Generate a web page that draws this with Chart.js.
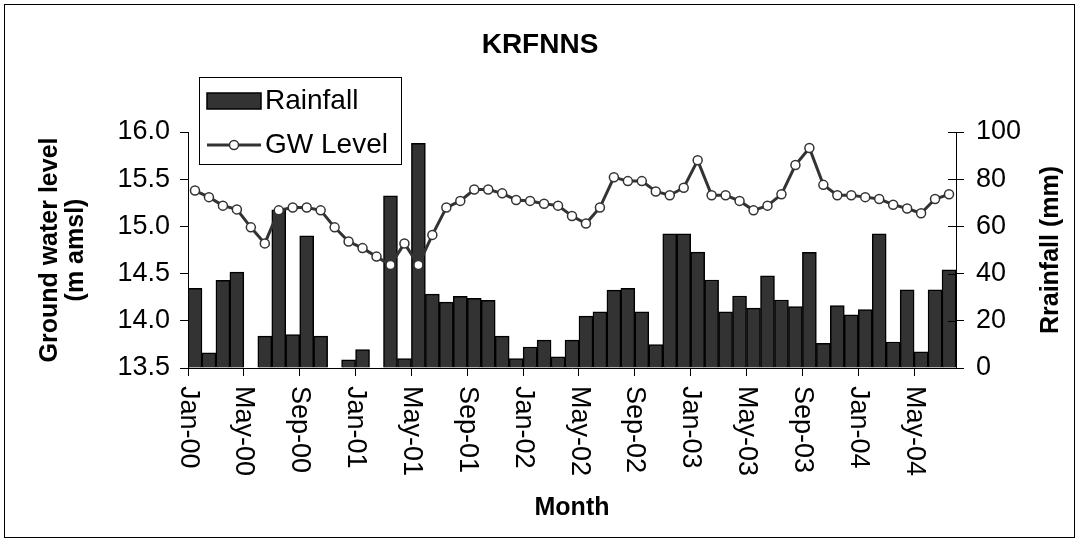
<!DOCTYPE html>
<html>
<head>
<meta charset="utf-8">
<script src="https://cdn.jsdelivr.net/npm/chart.js@4.4.1/dist/chart.umd.min.js"></script>
<style>
  html, body { margin: 0; padding: 0; background: #fff; }
  #wrap { width: 1080px; height: 547px; }
</style>
</head>
<body>
<div id="wrap"><canvas id="myChart" width="1080" height="547"></canvas></div>
<script>
const months = [
  'Jan-00', 'Feb-00', 'Mar-00', 'Apr-00', 'May-00', 'Jun-00', 'Jul-00', 'Aug-00', 'Sep-00', 'Oct-00', 'Nov-00', 'Dec-00',
  'Jan-01', 'Feb-01', 'Mar-01', 'Apr-01', 'May-01', 'Jun-01', 'Jul-01', 'Aug-01', 'Sep-01', 'Oct-01', 'Nov-01', 'Dec-01',
  'Jan-02', 'Feb-02', 'Mar-02', 'Apr-02', 'May-02', 'Jun-02', 'Jul-02', 'Aug-02', 'Sep-02', 'Oct-02', 'Nov-02', 'Dec-02',
  'Jan-03', 'Feb-03', 'Mar-03', 'Apr-03', 'May-03', 'Jun-03', 'Jul-03', 'Aug-03', 'Sep-03', 'Oct-03', 'Nov-03', 'Dec-03',
  'Jan-04', 'Feb-04', 'Mar-04', 'Apr-04', 'May-04', 'Jun-04', 'Jul-04',
];

const tickLabels = [
  'Jan-00', 'May-00', 'Sep-00', 'Jan-01', 'May-01', 'Sep-01', 'Jan-02',
  'May-02', 'Sep-02', 'Jan-03', 'May-03', 'Sep-03', 'Jan-04', 'May-04',
];

// monthly rainfall (mm), right axis
const rainfall = [
  33.8, 6.4, 37.2, 40.6, 0, 13.5, 67.0, 14.2, 56.0, 13.5, 0, 3.5,
  7.8, 0, 73.0, 4.0, 95.2, 31.3, 27.9, 30.4, 29.5, 28.7, 13.5, 4.0,
  8.9, 11.8, 4.7, 11.8, 22.0, 23.8, 33.0, 33.8, 23.8, 9.9, 56.9, 56.9,
  49.1, 37.3, 23.8, 30.5, 25.4, 39.1, 28.8, 26.0, 49.0, 10.5, 26.5, 22.5,
  24.8, 56.9, 11.0, 33.1, 6.8, 33.1, 41.6,
];

// ground water level (m amsl), left axis
const gwLevel = [
  15.38, 15.31, 15.22, 15.18, 14.99, 14.82, 15.17, 15.20, 15.20, 15.17, 14.99, 14.84,
  14.77, 14.68, 14.59, 14.82, 14.59, 14.91, 15.20, 15.27, 15.39, 15.39, 15.35, 15.28,
  15.27, 15.24, 15.22, 15.11, 15.03, 15.20, 15.52, 15.48, 15.48, 15.37, 15.33, 15.41,
  15.70, 15.33, 15.33, 15.27, 15.17, 15.22, 15.34, 15.65, 15.83, 15.44, 15.33, 15.33,
  15.31, 15.29, 15.23, 15.19, 15.14, 15.29, 15.34,
];

Chart.defaults.font.family = "'Liberation Sans', Arial, sans-serif";
Chart.defaults.color = '#000';

// white background, outer frame, legend box, rotated month labels, right title
const extras = {
  id: 'extras',
  beforeDraw(chart) {
    const ctx = chart.ctx;
    ctx.save();
    ctx.fillStyle = '#fff';
    ctx.fillRect(0, 0, chart.width, chart.height);
    ctx.restore();
  },
  afterDraw(chart) {
    const ctx = chart.ctx;
    ctx.save();

    ctx.strokeStyle = '#000';
    ctx.lineWidth = 1;
    ctx.strokeRect(4.5, 4.5, 1070, 533);

    // right axis ticks cross the axis line
    const yr = chart.scales.y1;
    ctx.beginPath();
    yr.ticks.forEach((t) => {
      const y = Math.round(yr.getPixelForValue(t.value)) + 0.5;
      ctx.moveTo(yr.left - 8, y);
      ctx.lineTo(yr.left, y);
    });
    ctx.stroke();

    // month labels, reading top to bottom
    const xs = chart.scales.xt;
    ctx.font = "27px 'Liberation Sans', Arial, sans-serif";
    ctx.fillStyle = '#000';
    ctx.textAlign = 'left';
    ctx.textBaseline = 'middle';
    xs.ticks.forEach((t, i) => {
      ctx.save();
      ctx.translate(xs.getPixelForValue(t.value), xs.top + 18);
      ctx.rotate(Math.PI / 2);
      ctx.fillText(tickLabels[i], 0, 0);
      ctx.restore();
    });

    // right axis title
    ctx.save();
    ctx.font = "bold 25px 'Liberation Sans', Arial, sans-serif";
    ctx.textAlign = 'center';
    ctx.translate(1051, (chart.chartArea.top + chart.chartArea.bottom) / 2);
    ctx.rotate(-Math.PI / 2);
    ctx.fillText('Rrainfall (mm)', 0, 0);
    ctx.restore();

    // legend
    ctx.fillStyle = '#fff';
    ctx.fillRect(199, 77, 202, 87);
    ctx.strokeRect(199.5, 77.5, 202, 87);
    ctx.fillStyle = '#333';
    ctx.fillRect(207, 93, 54, 16);
    ctx.lineWidth = 1.5;
    ctx.strokeRect(207, 93, 54, 16);
    ctx.strokeStyle = '#333';
    ctx.lineWidth = 3;
    ctx.beginPath();
    ctx.moveTo(207, 145);
    ctx.lineTo(261, 145);
    ctx.stroke();
    ctx.beginPath();
    ctx.arc(234, 145, 4.5, 0, Math.PI * 2);
    ctx.fillStyle = '#fff';
    ctx.fill();
    ctx.lineWidth = 1.5;
    ctx.stroke();
    ctx.fillStyle = '#000';
    ctx.font = "28px 'Liberation Sans', Arial, sans-serif";
    ctx.textAlign = 'left';
    ctx.textBaseline = 'middle';
    ctx.fillText('Rainfall', 265, 101);
    ctx.fillText('GW Level', 265, 145);

    ctx.restore();
  },
};

const ctx = document.getElementById('myChart').getContext('2d');
const myChart = new Chart(ctx, {
  type: 'bar',
  data: {
    labels: months,
    datasets: [
      {
        type: 'line',
        label: 'GW Level',
        data: gwLevel,
        xAxisID: 'x',
        yAxisID: 'y',
        order: 0,
        borderColor: '#333333',
        borderWidth: 3,
        pointRadius: 4.5,
        pointBackgroundColor: '#ffffff',
        pointBorderColor: '#333333',
        pointBorderWidth: 1.5,
        tension: 0,
      },
      {
        type: 'bar',
        label: 'Rainfall',
        data: rainfall,
        xAxisID: 'x',
        yAxisID: 'y1',
        order: 1,
        backgroundColor: '#333333',
        borderColor: '#000000',
        borderWidth: 1.5,
        categoryPercentage: 1,
        barPercentage: 1,
      },
    ],
  },
  options: {
    responsive: false,
    animation: false,
    layout: { padding: 0 },
    plugins: {
      legend: { display: false },
      tooltip: { enabled: false },
      title: {
        display: true,
        text: 'KRFNNS',
        font: { size: 28, weight: 'bold' },
        color: '#000',
        padding: { top: 28, bottom: 70.4 },
      },
    },
    scales: {
      x: {
        type: 'category',
        offset: true,
        display: false,
      },
      xt: {
        type: 'linear',
        position: 'bottom',
        offset: false,
        bounds: 'data',
        min: -0.5,
        max: months.length - 0.5,
        afterBuildTicks: (s) => {
          s.ticks = tickLabels.map((_, i) => ({ value: i * 4 - 0.5 }));
        },
        afterFit: (s) => { s.height = 179; },
        ticks: { display: false },
        grid: { offset: false, drawOnChartArea: false, tickLength: 8, color: '#000' },
        border: { color: '#000', width: 1 },
        title: {
          display: true,
          text: 'Month',
          font: { size: 25, weight: 'bold' },
          color: '#000',
          padding: { top: 0, bottom: 24 },
        },
      },
      y: {
        position: 'left',
        min: 13.5,
        max: 16,
        afterFit: (s) => { s.width = 188; },
        ticks: {
          stepSize: 0.5,
          callback: (v) => v.toFixed(1),
          font: { size: 27 },
          color: '#000',
          padding: 10,
        },
        grid: { drawOnChartArea: false, tickLength: 8, color: '#000' },
        border: { color: '#000', width: 1 },
        title: {
          display: true,
          text: ['Ground water level', '(m amsl)'],
          font: { size: 25, weight: 'bold', lineHeight: 1.05 },
          color: '#000',
          padding: { top: 37, bottom: 0 },
        },
      },
      y1: {
        position: 'right',
        min: 0,
        max: 100,
        afterFit: (s) => { s.width = 124; },
        ticks: {
          stepSize: 20,
          font: { size: 27 },
          color: '#000',
          padding: 12,
        },
        grid: { drawOnChartArea: false, tickLength: 8, color: '#000' },
        border: { color: '#000', width: 1 },
      },
    },
  },
  plugins: [extras],
});
</script>
</body>
</html>
